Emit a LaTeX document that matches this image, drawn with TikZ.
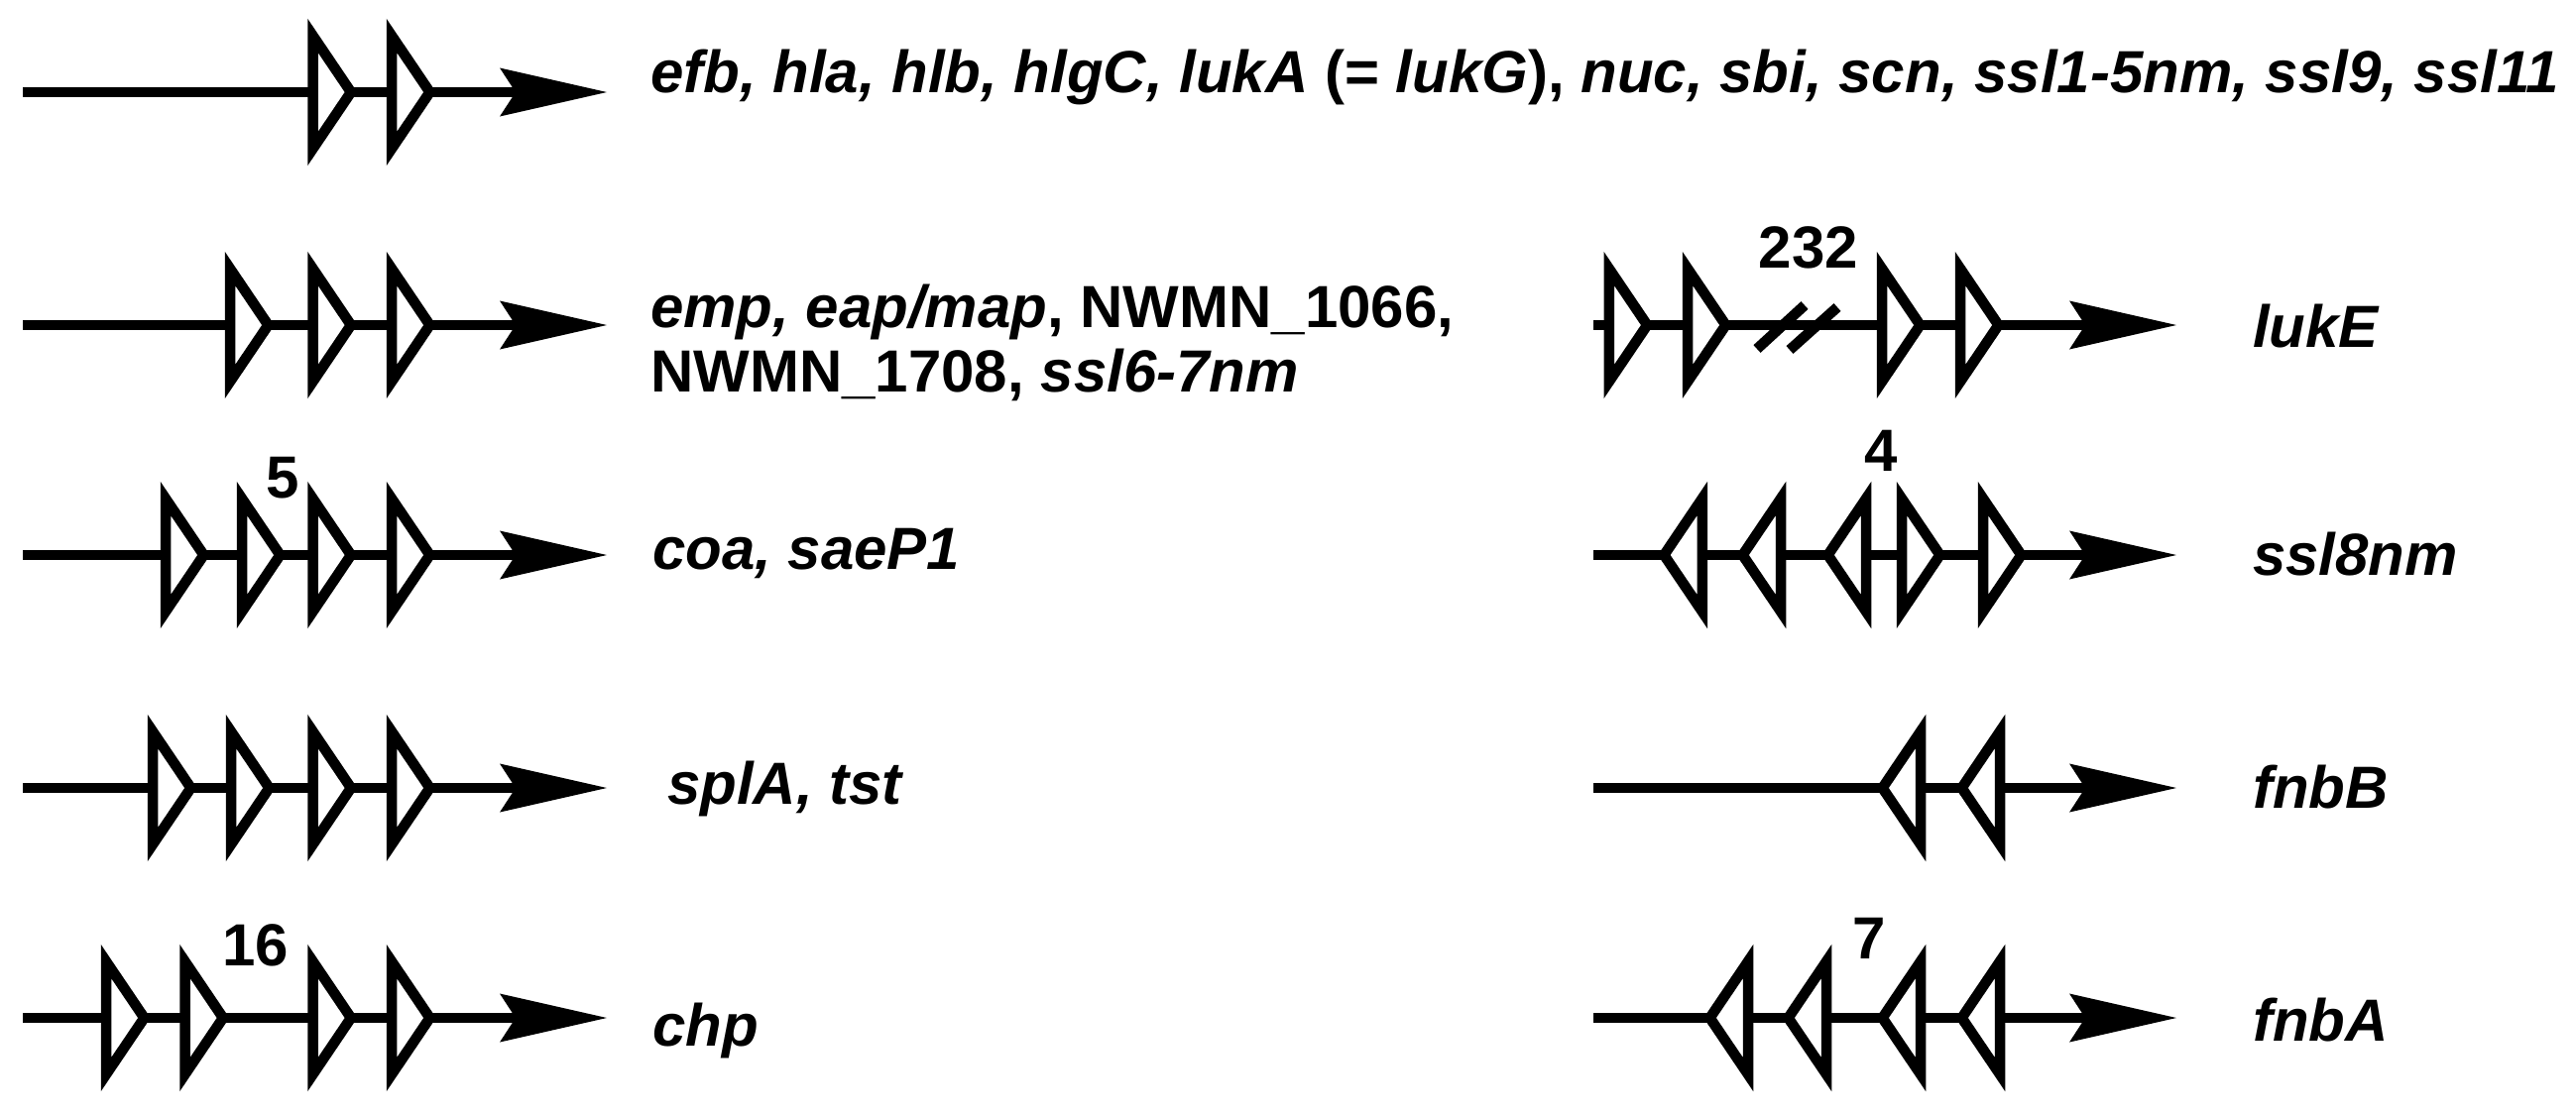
\documentclass[tikz,border=0pt]{standalone}
\usepackage{fontspec}
\setmainfont{Liberation Sans}
\usetikzlibrary{arrows.meta}
\begin{document}
\begin{tikzpicture}[x=1pt,y=-1pt,
  gene/.style={line width=10.5pt,
    -{Stealth[length=108pt,width=49pt,inset=16pt,line width=0pt]}},
  lbl/.style={anchor=base west, inner sep=0pt, font=\fontsize{60}{63}\selectfont\bfseries},
  num/.style={anchor=center, inner sep=0pt, font=\fontsize{60}{63}\selectfont\bfseries},
  rtri/.pic={\draw[line width=10.5pt, fill=white] (0,-57) -- (0,57) -- (38.5,0) -- cycle;},
  ltri/.pic={\draw[line width=10.5pt, fill=white] (0,-57) -- (0,57) -- (-38.5,0) -- cycle;},
  brk/.style={line width=10.5pt}
]
\fill[white] (0,0) rectangle (2598,1125);
\useasboundingbox (0,0) rectangle (2598,1125);

% ---------- left column ----------
\coordinate (L1s) at (23,93);   \coordinate (L1e) at (612,93);
\coordinate (L2s) at (23,328);  \coordinate (L2e) at (612,328);
\coordinate (L3s) at (23,560);  \coordinate (L3e) at (612,560);
\coordinate (L4s) at (23,795);  \coordinate (L4e) at (612,795);
\coordinate (L5s) at (23,1027); \coordinate (L5e) at (612,1027);
\draw[gene] (L1s) -- (L1e);
\draw[gene] (L2s) -- (L2e);
\draw[gene] (L3s) -- (L3e);
\draw[gene] (L4s) -- (L4e);
\draw[gene] (L5s) -- (L5e);
\foreach \x in {315.5,395}{\pic at (\x,93) {rtri};}
\foreach \x in {232,315.5,395}{\pic at (\x,328) {rtri};}
\foreach \x in {167,244,315.5,395}{\pic at (\x,560) {rtri};}
\foreach \x in {154,233,315.5,395}{\pic at (\x,795) {rtri};}
\foreach \x in {107,186.5,315.5,395}{\pic at (\x,1027) {rtri};}

% ---------- right column ----------
\coordinate (R1s) at (1607,328);  \coordinate (R1e) at (2195,328);
\coordinate (R2s) at (1607,560);  \coordinate (R2e) at (2195,560);
\coordinate (R3s) at (1607,795);  \coordinate (R3e) at (2195,795);
\coordinate (R4s) at (1607,1027); \coordinate (R4e) at (2195,1027);
\draw[gene] (R1s) -- (R1e);
\draw[gene] (R2s) -- (R2e);
\draw[gene] (R3s) -- (R3e);
\draw[gene] (R4s) -- (R4e);
\foreach \x in {1622.75,1702,1898,1977}{\pic at (\x,328) {rtri};}
\draw[brk] (1772,352) -- (1820,308);
\draw[brk] (1805,353) -- (1853,310);
\foreach \x in {1716.75,1796,1882}{\pic at (\x,560) {ltri};}
\foreach \x in {1918,2000}{\pic at (\x,560) {rtri};}
\foreach \x in {1937,2017}{\pic at (\x,795) {ltri};}
\foreach \x in {1763,1842,1937,2017}{\pic at (\x,1027) {ltri};}

% ---------- numbers ----------
\node[num] (n5) at (285,482) {5};
\node[num] (n16) at (258,954) {16};
\node[num] (n232) at (1824,250) {232};
\node[num] (n4) at (1897,455) {4};
\node[num] (n7) at (1885,947) {7};

% ---------- labels ----------
\node[lbl] (t1) at (656,93) {\textit{efb, hla, hlb, hlgC, lukA} (= \textit{lukG}), \textit{nuc, sbi, scn, ssl1-5nm, ssl9, ssl11}};
\node[lbl] (t2a) at (656,330) {\textit{emp, eap/map}, NWMN\_1066,};
\node[lbl] (t2b) at (656,395) {NWMN\_1708, \textit{ssl6-7nm}};
\node[lbl] (t3) at (658,574) {\textit{coa, saeP1}};
\node[lbl] (t4) at (673,811) {\textit{splA, tst}};
\node[lbl] (t5) at (658,1055) {\textit{chp}};
\node[lbl] (r1) at (2272,350) {\textit{lukE}};
\node[lbl] (r2) at (2272,580) {\textit{ssl8nm}};
\node[lbl] (r3) at (2272,815) {\textit{fnbB}};
\node[lbl] (r4) at (2272,1050) {\textit{fnbA}};
\end{tikzpicture}
\end{document}
